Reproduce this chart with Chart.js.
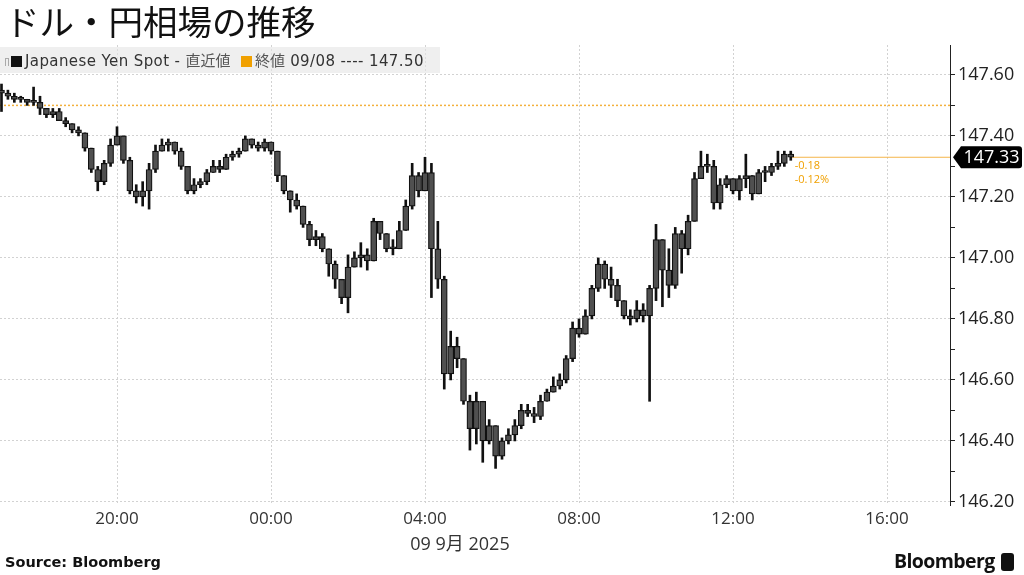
<!DOCTYPE html>
<html lang="ja">
<head>
<meta charset="utf-8">
<title>ドル・円相場の推移</title>
<script src="https://cdn.jsdelivr.net/npm/chart.js@4.4.1/dist/chart.umd.min.js"></script>
<style>
  html, body { margin: 0; padding: 0; background: #fff; }
  #wrap { position: relative; width: 1024px; height: 575px; overflow: hidden; font-family: "Open Sans", sans-serif; color: #222; }
  #chart { position: absolute; left: 0; top: 0; }
  .title { position: absolute; left: 5px; top: -5px; font-family: "Noto Sans CJK JP", sans-serif; font-size: 34.5px; color: #111; white-space: nowrap; }
  .legend { position: absolute; left: 0; top: 47px; width: 440px; height: 26px; background: rgba(228,228,228,0.6); font-family: "DejaVu Sans", sans-serif; font-size: 15px; letter-spacing: 0.4px; line-height: 26px; color: #333; white-space: nowrap; }
  .legend .pin { display: inline-block; width: 4px; height: 8px; margin: 0 2px 0 5px; vertical-align: 0px; border: 1px solid #aaa; border-bottom: none; box-sizing: border-box; }
  .legend .sq { display: inline-block; width: 11px; height: 11px; margin-right: 3px; vertical-align: -1px; }
  .legend .jp { font-family: "Noto Sans CJK JP", sans-serif; color: #555; letter-spacing: 0; }
  .date { position: absolute; left: 360px; width: 200px; text-align: center; top: 529px; font-size: 18px; color: #333; white-space: nowrap; }
  .date .jp { font-family: "Noto Sans CJK JP", sans-serif; }
  .source { position: absolute; left: 5px; top: 554px; font-family: "DejaVu Sans", sans-serif; font-weight: bold; font-size: 14.5px; color: #111; }
  .logo { position: absolute; left: 894px; top: 547px; font-family: "Open Sans", sans-serif; font-weight: bold; font-size: 19.5px; letter-spacing: -0.6px; color: #111; }
  .logo .mark { display: inline-block; width: 13px; height: 18px; margin-left: 6px; background: #111; border-radius: 3px; vertical-align: -3px; }
</style>
</head>
<body>
<div id="wrap">
  <canvas id="chart" width="1024" height="575"></canvas>
  <div class="title">ドル・円相場の推移</div>
  <div class="legend"><span class="pin"></span><span class="sq" style="background:#111"></span>Japanese Yen Spot - <span class="jp">直近値</span>&nbsp;&nbsp;<span class="sq" style="background:#f0a000"></span><span class="jp">終値</span> 09/08 ---- 147.50</div>
  <div class="date">09 9<span class="jp">月</span> 2025</div>
  <div class="source">Source: Bloomberg</div>
  <div class="logo">Bloomberg<span class="mark"></span></div>
</div>
<script>
// ─── Données (barres de 10 min, heures depuis 08/09 00:00) ───────────────────
const START_HOUR = 17;
const STEP_MIN = 10;
const FIRST_OPEN = 147.55;
const PREV_CLOSE = 147.50;
const CHANGE_LABELS = ["-0.18", "-0.12%"];

const X_TICKS = [20, 24, 28, 32, 36, 40];
const X_TICK_LABELS = ["20:00", "00:00", "04:00", "08:00", "12:00", "16:00"];
const Y_TICKS = [146.2, 146.3, 146.4, 146.5, 146.6, 146.7, 146.8, 146.9, 147.0, 147.1, 147.2, 147.3, 147.4, 147.5, 147.6];

const CLOSE = [
  147.54, 147.53, 147.52, 147.52, 147.51, 147.51, 147.49, 147.47, 147.48, 147.45,
  147.44, 147.42, 147.41, 147.36, 147.29, 147.25, 147.31, 147.37, 147.40, 147.32,
  147.22, 147.20, 147.22, 147.29, 147.35, 147.37, 147.38, 147.35, 147.30, 147.22,
  147.24, 147.25, 147.28, 147.30, 147.29, 147.33, 147.34, 147.35, 147.39, 147.37,
  147.36, 147.38, 147.35, 147.27, 147.22, 147.19, 147.17, 147.11, 147.06, 147.07,
  147.03, 146.98, 146.93, 146.87, 146.97, 147.00, 147.01, 146.99, 147.12, 147.08,
  147.03, 147.03, 147.09, 147.17, 147.27, 147.22, 147.28, 147.03, 146.93, 146.62,
  146.71, 146.67, 146.53, 146.44, 146.53, 146.40, 146.45, 146.35, 146.40, 146.42,
  146.45, 146.50, 146.49, 146.48, 146.53, 146.56, 146.58, 146.60, 146.67, 146.77,
  146.75, 146.81, 146.90, 146.98, 146.93, 146.91, 146.86, 146.81, 146.80, 146.83,
  146.81, 146.90, 147.06, 146.96, 146.91, 147.08, 147.03, 147.12, 147.26, 147.30,
  147.30, 147.18, 147.24, 147.26, 147.22, 147.26, 147.27, 147.21, 147.28, 147.28,
  147.30, 147.31, 147.34, 147.33
];

const HIGH = [
  147.57, 147.55, 147.54, 147.53, 147.52, 147.56, 147.53, 147.49, 147.49, 147.49,
  147.46, 147.44, 147.43, 147.41, 147.36, 147.30, 147.32, 147.39, 147.43, 147.40,
  147.33, 147.24, 147.25, 147.31, 147.37, 147.39, 147.39, 147.38, 147.36, 147.30,
  147.26, 147.26, 147.29, 147.32, 147.32, 147.34, 147.35, 147.36, 147.40, 147.39,
  147.38, 147.39, 147.38, 147.35, 147.27, 147.22, 147.21, 147.17, 147.12, 147.09,
  147.08, 147.03, 146.99, 146.93, 147.01, 147.02, 147.05, 147.03, 147.13, 147.12,
  147.08, 147.06, 147.12, 147.19, 147.31, 147.28, 147.33, 147.31, 147.12, 146.94,
  146.76, 146.74, 146.66, 146.55, 146.56, 146.52, 146.47, 146.45, 146.41, 146.44,
  146.47, 146.52, 146.52, 146.51, 146.55, 146.57, 146.61, 146.62, 146.68, 146.79,
  146.80, 146.83, 146.91, 147.00, 146.99, 146.97, 146.93, 146.85, 146.83, 146.86,
  146.85, 146.91, 147.11, 147.01, 147.03, 147.10, 147.09, 147.14, 147.28, 147.35,
  147.34, 147.32, 147.26, 147.27, 147.26, 147.27, 147.34, 147.27, 147.29, 147.30,
  147.31, 147.35, 147.35, 147.35
];

const LOW = [
  147.48, 147.52, 147.51, 147.51, 147.50, 147.50, 147.47, 147.46, 147.46, 147.45,
  147.43, 147.41, 147.40, 147.35, 147.28, 147.22, 147.24, 147.30, 147.37, 147.31,
  147.21, 147.18, 147.17, 147.16, 147.28, 147.35, 147.35, 147.34, 147.29, 147.21,
  147.21, 147.23, 147.24, 147.28, 147.28, 147.29, 147.32, 147.33, 147.35, 147.36,
  147.35, 147.35, 147.34, 147.25, 147.21, 147.15, 147.16, 147.10, 147.04, 147.04,
  147.02, 146.94, 146.90, 146.85, 146.82, 146.98, 146.97, 146.96, 146.99, 147.06,
  147.02, 147.01, 147.03, 147.09, 147.16, 147.20, 147.22, 146.87, 146.90, 146.57,
  146.60, 146.64, 146.52, 146.37, 146.39, 146.33, 146.39, 146.31, 146.34, 146.39,
  146.40, 146.44, 146.48, 146.46, 146.47, 146.53, 146.56, 146.57, 146.59, 146.66,
  146.74, 146.75, 146.80, 146.89, 146.90, 146.87, 146.84, 146.80, 146.78, 146.79,
  146.79, 146.53, 146.86, 146.84, 146.87, 146.90, 146.95, 147.01, 147.12, 147.26,
  147.28, 147.16, 147.16, 147.23, 147.21, 147.19, 147.23, 147.19, 147.21, 147.25,
  147.27, 147.29, 147.30, 147.32
];

// ─── Style ──────────────────────────────────────────────────────────────────
const ORANGE = "#f0a000";
const GRID = "#d2d2d2";
const X_MIN = 16.961;
const X_MAX = 41.636;
const Y_MIN = 146.19;
const Y_MAX = 147.698;

const timeOf = (i) => START_HOUR + (i * STEP_MIN) / 60;
const opens = CLOSE.map((c, i) => (i === 0 ? FIRST_OPEN : CLOSE[i - 1]));
const wickData = CLOSE.map((c, i) => ({
  x: timeOf(i),
  y: [Math.min(LOW[i], opens[i], c), Math.max(HIGH[i], opens[i], c)],
}));
const bodyData = CLOSE.map((c, i) => ({ x: timeOf(i), y: [opens[i], c] }));
const lastIdx = CLOSE.length - 1;
const isMajor = (v) => Math.round(v * 10) % 2 === 0;

// Étiquette du dernier cours + variation
const lastTag = {
  id: "lastTag",
  afterDraw(chart) {
    const { ctx, scales: { x, y }, chartArea } = chart;
    const last = CLOSE[lastIdx];
    const py = y.getPixelForValue(last);
    const px = x.getPixelForValue(timeOf(lastIdx));
    ctx.save();
    ctx.fillStyle = ORANGE;
    ctx.font = '11px "Open Sans"';
    ctx.textBaseline = "middle";
    ctx.fillText(CHANGE_LABELS[0], px + 4, py + 9);
    ctx.fillText(CHANGE_LABELS[1], px + 4, py + 23);

    const left = chartArea.right + 3, right = 1022, h = 22, r = 3;
    ctx.fillStyle = "#000";
    ctx.beginPath();
    ctx.moveTo(left, py);
    ctx.lineTo(left + 8, py - h / 2);
    ctx.lineTo(right - r, py - h / 2);
    ctx.quadraticCurveTo(right, py - h / 2, right, py - h / 2 + r);
    ctx.lineTo(right, py + h / 2 - r);
    ctx.quadraticCurveTo(right, py + h / 2, right - r, py + h / 2);
    ctx.lineTo(left + 8, py + h / 2);
    ctx.closePath();
    ctx.fill();
    ctx.fillStyle = "#fff";
    ctx.font = '18px "Open Sans"';
    ctx.textAlign = "center";
    ctx.fillText(last.toFixed(2), (left + 8 + right) / 2, py + 1);
    ctx.restore();
  },
};

new Chart(document.getElementById("chart").getContext("2d"), {
  type: "bar",
  data: {
    datasets: [
      {
        type: "line",
        data: [{ x: X_MIN, y: PREV_CLOSE }, { x: X_MAX, y: PREV_CLOSE }],
        borderColor: "#f3b13c",
        borderWidth: 1.5,
        borderDash: [2, 2],
        pointRadius: 0,
        order: 5,
      },
      {
        type: "line",
        data: [{ x: timeOf(lastIdx), y: CLOSE[lastIdx] }, { x: X_MAX, y: CLOSE[lastIdx] }],
        borderColor: "#f5b54a",
        borderWidth: 1,
        pointRadius: 0,
        order: 5,
      },
      {
        data: wickData,
        backgroundColor: "#111",
        barThickness: 2,
        grouped: false,
        order: 2,
      },
      {
        data: bodyData,
        backgroundColor: "#505050",
        borderColor: "#111",
        borderWidth: 1.2,
        borderSkipped: false,
        barThickness: 6,
        minBarLength: 2,
        grouped: false,
        order: 1,
      },
    ],
  },
  options: {
    responsive: false,
    animation: false,
    layout: { padding: { top: 45, left: 0, right: 0, bottom: 0 } },
    plugins: { legend: { display: false }, tooltip: { enabled: false } },
    scales: {
      x: {
        type: "linear",
        min: X_MIN,
        max: X_MAX,
        offset: false,
        afterBuildTicks: (axis) => { axis.ticks = X_TICKS.map((v) => ({ value: v })); },
        afterFit: (axis) => { axis.height = 70; },
        ticks: {
          callback: (v) => X_TICK_LABELS[X_TICKS.indexOf(v)] || "",
          color: "#333",
          font: { family: "Open Sans", size: 17 },
          padding: 4,
          maxRotation: 0,
        },
        grid: { color: GRID, offset: false, drawTicks: false },
        border: { display: false, dash: [2, 2] },
      },
      y: {
        position: "right",
        min: Y_MIN,
        max: Y_MAX,
        afterBuildTicks: (axis) => { axis.ticks = Y_TICKS.map((v) => ({ value: v })); },
        afterFit: (axis) => { axis.width = 74; },
        ticks: {
          callback: (v) => (isMajor(v) ? v.toFixed(2) : ""),
          color: "#222",
          font: { family: "Open Sans", size: 18 },
          padding: 3,
        },
        grid: {
          color: (c) => (c.tick && isMajor(c.tick.value) ? GRID : "rgba(0,0,0,0)"),
          tickColor: "#222",
          tickLength: 5,
        },
        border: { display: true, color: "#222", width: 1, dash: [2, 2] },
      },
    },
  },
  plugins: [lastTag],
});
</script>
</body>
</html>
